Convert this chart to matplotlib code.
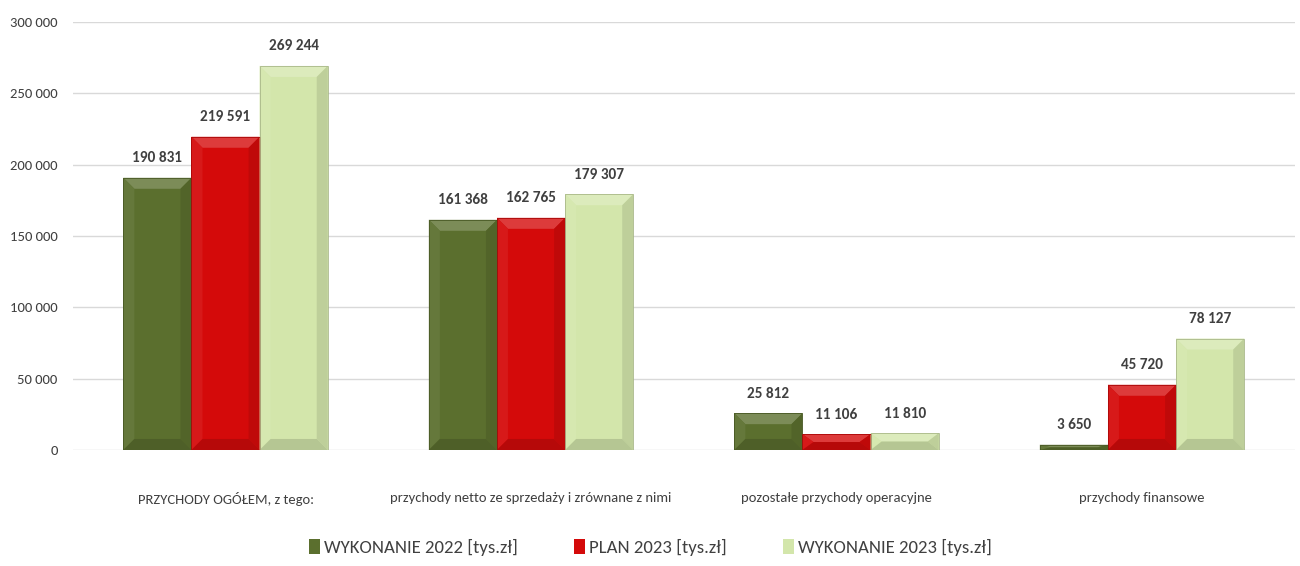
import matplotlib.pyplot as plt
import matplotlib.colors as mcolors
from matplotlib.patches import Polygon
import numpy as np

plt.rcParams['font.family'] = ['Carlito', 'IBM Plex Sans Condensed', 'DejaVu Sans']

categories = ["PRZYCHODY OGÓŁEM, z tego:",
              "przychody netto ze sprzedaży i zrównane z nimi",
              "pozostałe przychody operacyjne",
              "przychody finansowe"]
wyk_2022 = [190831, 161368, 25812, 3650]
plan_2023 = [219591, 162765, 11106, 45720]
wyk_2023 = [269244, 179307, 11810, 78127]
series_names = ["WYKONANIE 2022 [tys.zł]", "PLAN 2023 [tys.zł]",
                "WYKONANIE 2023 [tys.zł]"]
colors = ["#5b6f2e", "#d40a0a", "#d3e6ab"]


def fmt(v):
    return "{:,}".format(int(v)).replace(",", " ")


def shade(c, f):
    r, g, b = mcolors.to_rgb(c)
    if f > 0:
        return (r + (1 - r) * f, g + (1 - g) * f, b + (1 - b) * f)
    return (r * (1 + f), g * (1 + f), b * (1 + f))


def add_bevel(ax, bar, color):
    x0 = bar.get_x()
    w = bar.get_width()
    x1 = x0 + w
    y0 = bar.get_y()
    y1 = y0 + bar.get_height()
    # bevel depth in pixels, converted to data units
    px = 11
    p0 = ax.transData.transform((x0, y0))
    dx = ax.transData.inverted().transform((p0[0] + px, p0[1]))[0] - x0
    dy = ax.transData.inverted().transform((p0[0], p0[1] + px))[1] - y0
    dy = min(dy, (y1 - y0) / 2)
    dx = min(dx, w / 2)
    parts = [
        ([(x0, y1), (x1, y1), (x1 - dx, y1 - dy), (x0 + dx, y1 - dy)], 0.2),
        ([(x0, y0), (x0, y1), (x0 + dx, y1 - dy), (x0 + dx, y0 + dy)], 0.06),
        ([(x1, y0), (x1, y1), (x1 - dx, y1 - dy), (x1 - dx, y0 + dy)], -0.1),
        ([(x0, y0), (x1, y0), (x1 - dx, y0 + dy), (x0 + dx, y0 + dy)], -0.14),
    ]
    for pts, f in parts:
        ax.add_patch(Polygon(pts, closed=True, facecolor=shade(color, f),
                             edgecolor="none", zorder=3))
    ax.add_patch(plt.Rectangle((x0, y0), w, y1 - y0, fill=False,
                               edgecolor=shade(color, -0.2), lw=0.6, zorder=4))


fig = plt.figure(figsize=(13, 5.66), dpi=100)
ax = fig.add_axes([0.056, 0.205, 0.94, 0.756])

x = np.arange(len(categories))
width = 0.223
all_series = [wyk_2022, plan_2023, wyk_2023]
handles = []
for i, (vals, col, name) in enumerate(zip(all_series, colors, series_names)):
    bars = ax.bar(x + (i - 1) * width, vals, width, color=col, label=name,
                  zorder=2)
    handles.append(bars)

ax.set_xlim(-0.5, len(categories) - 0.5)
ax.set_ylim(0, 300000)
ax.set_yticks(range(0, 300001, 50000))
ax.set_yticklabels([fmt(v) for v in range(0, 300001, 50000)],
                   fontsize=10.5, color="#404040")
ax.set_xticks(x)
ax.set_xticklabels(categories, fontsize=10.5, color="#404040")
ax.tick_params(axis="both", length=0)
ax.tick_params(axis="x", pad=30)
ax.tick_params(axis="y", pad=11)
ax.grid(axis="y", color="#d9d9d9", lw=1, zorder=0)
for s in ax.spines.values():
    s.set_visible(False)

for bars, col in zip(handles, colors):
    for b in bars:
        add_bevel(ax, b, col)
    ax.bar_label(bars, labels=[fmt(b.get_height()) for b in bars],
                 padding=9, fontsize=11, fontweight="bold", color="#404040")

fig.legend(handles=handles, loc="lower center", ncol=3, frameon=False,
           bbox_to_anchor=(0.5, -0.012), fontsize=13.5, handlelength=0.6,
           handleheight=0.9, handletextpad=0.2, columnspacing=3.0,
           labelcolor="#404040")

fig.savefig("out.png", dpi=100)
